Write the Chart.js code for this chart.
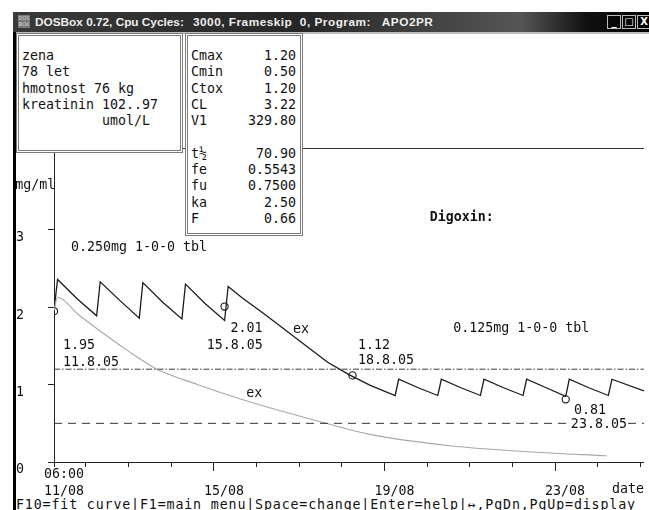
<!DOCTYPE html>
<html lang="cs">
<head>
<meta charset="UTF-8">
<title>APO2PR - Digoxin</title>
<script src="https://cdn.jsdelivr.net/npm/chart.js@4.4.1/dist/chart.umd.min.js"></script>
<style>
  html, body { margin: 0; padding: 0; background: #fff; overflow: hidden; }
  body { width: 649px; height: 510px; position: relative; font-family: "DejaVu Sans Mono", monospace; font-size: 13.3px; color: #111; }
  #titlebar { position: absolute; left: 13px; top: 12px; width: 636px; height: 20px;
    background: linear-gradient(to right, #3a3a3a, #262626 45%, #555 80%, #111 90%, #000);
    color: #eee; font: bold 11.8px "Liberation Sans", Arial, sans-serif; }
  #titlebar span { position: absolute; top: 3px; white-space: pre; }
  #icon { position: absolute; left: 5px; top: 3px; width: 12px; height: 13px; background: #777;
    font: 5px/6px "DejaVu Sans", sans-serif; color: #ddd; text-align: center; }
  .btn { position: absolute; top: 3px; width: 12px; height: 12px; border: 1px solid #bbb; color: #fff;
    font: bold 10px/12px "DejaVu Sans", sans-serif; text-align: center; }
  #frameline { position: absolute; left: 13px; top: 32px; width: 636px; height: 2px; background: #bdbdbd; }
  #leftbar { position: absolute; left: 13px; top: 32px; width: 3px; height: 478px; background: #000; }
  .box { position: absolute; background: #fff; border: 3px double #7a7a7a; box-sizing: border-box; z-index: 2; }
  .txt { position: absolute; white-space: pre; line-height: 16.3px; z-index: 3; }
  .row { display: flex; justify-content: space-between; width: 105px; height: 16.3px; }
  #status { position: absolute; left: 16px; top: 497px; white-space: pre; line-height: 16px; letter-spacing: 0.85px; }
  #chart { position: absolute; left: 0; top: 0; z-index: 1; }
</style>
</head>
<body>
<div id="titlebar">
  <div id="icon">DOS<br>BOX</div>
  <span style="left:22px">DOSBox 0.72, Cpu Cycles:</span>
  <span style="left:180px; letter-spacing:0.5px">3000, Frameskip  0, Program:   APO2PR</span>
  <div class="btn" style="left:594px">_</div>
  <div class="btn" style="left:609px">□</div>
  <div class="btn" style="left:624px">X</div>
</div>
<div id="frameline"></div>
<div id="leftbar"></div>

<div class="box" style="left:16px; top:33px; width:167px; height:120px;"></div>
<div class="txt" style="left:22px; top:48px;">zena
78 let
hmotnost 76 kg
kreatinin 102..97
          umol/L</div>

<div class="box" style="left:185px; top:33px; width:118px; height:203px;"></div>
<div class="txt" style="left:191px; top:48px;" id="params"></div>

<canvas id="chart" width="649" height="510"></canvas>
<div id="status">F10=fit curve|F1=main menu|Space=change|Enter=help|↔,PgDn,PgUp=display</div>

<script>
// hours counted from 11/08 00:00
const darkHours = [6, 8, 19, 30, 32, 43, 54, 56, 67, 78, 80, 91, 102, 104, 112, 124, 136, 148, 160, 172, 184, 198,
  200, 211, 222, 224, 235, 246, 248, 259, 270, 272, 283, 294, 296, 307, 318, 320, 338];
const darkConc = [1.96, 2.36, 2.11, 1.89, 2.33, 2.09, 1.86, 2.32, 2.07, 1.85, 2.30, 2.05, 1.83, 2.27, 2.12, 1.92, 1.71, 1.50, 1.29, 1.13, 0.99, 0.86,
  1.07, 0.96, 0.86, 1.07, 0.96, 0.86, 1.07, 0.96, 0.86, 1.07, 0.96, 0.85, 1.07, 0.96, 0.86, 1.07, 0.92];

const lightHours = [6, 8, 20, 31, 48, 64, 87, 116, 140, 159, 183, 229, 275, 317];
const lightConc = [1.96, 2.13, 1.90, 1.71, 1.43, 1.20, 1.00, 0.78, 0.62, 0.50, 0.36, 0.21, 0.13, 0.08];

const measHours = [6, 102, 174, 294];
const measConc = [1.95, 2.01, 1.12, 0.81];

const paramNames = ['Cmax', 'Cmin', 'Ctox', 'CL', 'V1', '', 't½', 'fe', 'fu', 'ka', 'F'];
const paramValues = ['1.20', '0.50', '1.20', '3.22', '329.80', '', '70.90', '0.5543', '0.7500', '2.50', '0.66'];

const ctox = 1.20;
const cmin = 0.50;

const xMin = 6, xMax = 338;
const xTicks = [6, 24, 48, 72, 96, 120, 144, 168, 192, 216, 240, 264, 288, 312, 336];
const dateTicks = [6, 96, 192, 288];
const dateLabels = [['06:00', '11/08'], ['', '15/08'], ['', '19/08'], ['', '23/08']];
const yMax = 4.06;
const yTicks = [0, 1, 2, 3, 4];
const yLabels = ['0', '1', '2', '3', ''];

const notes = [
  { t: 'mg/ml', h: -15.8, c: 3.58 },
  { t: '0.250mg 1-0-0 tbl', h: 15.5, c: 2.77 },
  { t: '1.95', h: 11, c: 1.50 },
  { t: '11.8.05', h: 11, c: 1.29 },
  { t: '2.01', h: 105.3, c: 1.72 },
  { t: '15.8.05', h: 91.9, c: 1.50 },
  { t: 'ex', h: 140.5, c: 1.71 },
  { t: 'ex', h: 114.2, c: 0.88 },
  { t: '1.12', h: 177.1, c: 1.50 },
  { t: '18.8.05', h: 177.1, c: 1.31 },
  { t: '0.125mg 1-0-0 tbl', h: 230.7, c: 1.72 },
  { t: 'Digoxin:', h: 217.5, c: 3.155, bold: true },
  { t: '0.81', h: 298.6, c: 0.67 },
  { t: '23.8.05', h: 296.9, c: 0.48, bg: true },
  { t: 'date', h: 320.1, c: -0.36 }
];

document.getElementById('params').innerHTML = paramNames.map((n, i) =>
  '<div class="row"><span>' + n + '</span><span>' + paramValues[i] + '</span></div>').join('');

const MONO = '"DejaVu Sans Mono", monospace';

const notePlugin = {
  id: 'notes',
  afterDraw(chart) {
    const { ctx, scales: { x, y } } = chart;
    ctx.save();
    ctx.textBaseline = 'middle';
    notes.forEach(n => {
      ctx.font = (n.bold ? 'bold ' : '') + '13.3px ' + MONO;
      const px = x.getPixelForValue(n.h);
      const py = y.getPixelForValue(n.c);
      if (n.bg) {
        const w = ctx.measureText(n.t).width;
        ctx.fillStyle = '#fff';
        ctx.fillRect(px - 1, py - 7, w + 2, 14);
      }
      ctx.fillStyle = '#111';
      ctx.fillText(n.t, px, py);
    });
    ctx.restore();
  }
};

const pts = (xs, ys) => xs.map((v, i) => ({ x: v, y: ys[i] }));

new Chart(document.getElementById('chart'), {
  type: 'line',
  data: {
    datasets: [
      { data: pts([xMin, xMax], [ctox, ctox]), borderColor: '#3a3a3a', borderWidth: 1, borderDash: [6, 2, 1.5, 2], pointRadius: 0 },
      { data: pts([xMin, xMax], [cmin, cmin]), borderColor: '#333', borderWidth: 1, borderDash: [8, 6], pointRadius: 0 },
      { data: pts(lightHours, lightConc), borderColor: '#a8a8a8', borderWidth: 1.1, pointRadius: 0, cubicInterpolationMode: 'monotone' },
      { data: pts(darkHours, darkConc), borderColor: '#1c1c1c', borderWidth: 1.3, pointRadius: 0, tension: 0 },
      { data: pts(measHours, measConc), showLine: false, pointRadius: 3.6, pointBorderColor: '#111', pointBorderWidth: 1.1,
        pointBackgroundColor: 'rgba(0,0,0,0)', clip: { left: 0, top: 0, right: 0, bottom: 0 } }
    ]
  },
  options: {
    responsive: false,
    animation: false,
    events: [],
    layout: { padding: { left: 16, top: 148, right: 0, bottom: 8 } },
    plugins: { legend: { display: false }, tooltip: { enabled: false } },
    scales: {
      x: {
        type: 'linear', min: xMin, max: xMax,
        afterBuildTicks: s => { s.ticks = xTicks.map(v => ({ value: v })); },
        afterFit: s => { s.height = 40; },
        grid: { drawOnChartArea: false, tickLength: 9, color: '#222', tickWidth: 1,
          tickBorderDash: c => (c.tick && dateTicks.indexOf(c.tick.value) > 0) ? [] : [4, 30] },
        border: { color: '#222', width: 1 },
        ticks: {
          autoSkip: false, maxRotation: 0, labelOffset: 10, padding: -5, color: '#111',
          font: { family: MONO, size: 13.3, lineHeight: '17px' },
          callback: v => { const i = dateTicks.indexOf(v); return i < 0 ? '' : dateLabels[i]; }
        }
      },
      xTop: {
        type: 'linear', position: 'top', min: xMin, max: xMax,
        afterFit: s => { s.height = 0; },
        grid: { display: false, drawTicks: false },
        border: { color: '#333', width: 1 },
        ticks: { display: false }
      },
      y: {
        type: 'linear', min: 0, max: yMax,
        afterBuildTicks: s => { s.ticks = yTicks.map(v => ({ value: v })); },
        afterFit: s => { s.width = 38; },
        grid: { drawOnChartArea: false, tickLength: 6, color: '#222' },
        border: { color: '#222', width: 1 },
        ticks: {
          crossAlign: 'far', labelOffset: 8, padding: 2, color: '#111',
          font: { family: MONO, size: 13.3 },
          callback: v => { const i = yTicks.indexOf(v); return i < 0 ? '' : yLabels[i]; }
        }
      }
    }
  },
  plugins: [notePlugin]
});
</script>
</body>
</html>
